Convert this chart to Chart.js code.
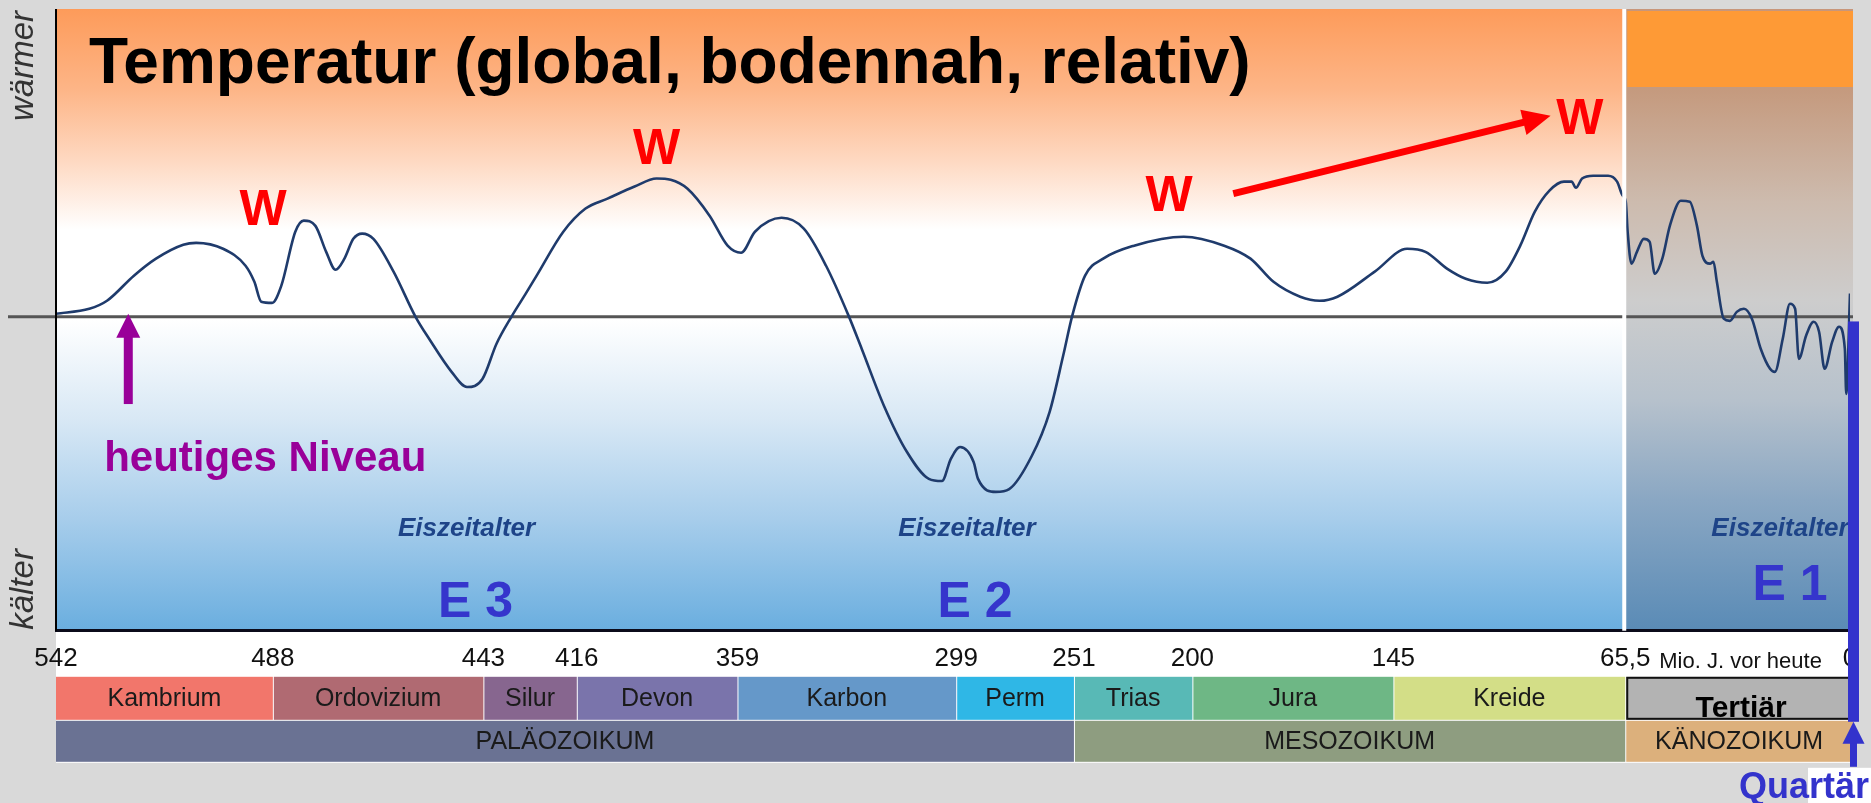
<!DOCTYPE html>
<html>
<head>
<meta charset="utf-8">
<script src="https://cdn.jsdelivr.net/npm/chart.js@4.4.1/dist/chart.umd.min.js"></script>
<style>
  html, body { margin: 0; padding: 0; background: #d9d9d9; }
  #wrap { width: 1871px; height: 803px; position: relative; }
</style>
</head>
<body>
<div id="wrap"><canvas id="chart"></canvas></div>
<script>
// Temperaturkurve: Alter in Mio. Jahren, relative Temperatur (0 = heutiges Niveau)
var ageMa = [542.0, 533.7, 529.3, 522.6, 517.1, 510.3, 507.1, 500.4, 494.8, 492.6,
  490.9, 488.2, 486.2, 483.2, 481.4, 478.9, 476.6, 474.6, 472.7, 470.8,
  468.9, 466.5, 462.2, 457.5, 454.6, 449.8, 446.5, 443.2, 439.2, 434.9,
  430.8, 427.6, 419.9, 412.9, 405.1, 395.5, 387.7, 382.7, 376.7, 368.9,
  362.5, 358.0, 354.2, 346.9, 340.8, 334.7, 328.5, 324.9, 318.8, 312.5,
  306.5, 302.9, 300.5, 297.4, 291.9, 290.1, 282.8, 277.4, 268.2, 260.9,
  255.4, 251.7, 246.2, 238.4, 225.1, 203.7, 191.3, 184.1, 177.8, 170.5,
  165.2, 160.3, 150.1, 140.3, 134.0, 126.5, 120.2, 112.8, 106.5, 101.5,
  96.5, 91.5, 86.5, 83.9, 82.4, 80.3, 76.5, 71.4, 68.3, 66.4,
  65.35, 64.8, 63.7, 62.1, 60.1, 58.4, 56.9, 54.7, 52.5, 49.3,
  46.7, 44.6, 43.0, 40.8, 39.8, 38.8, 36.8, 35.0, 33.0, 30.9,
  28.6, 26.0, 23.3, 21.9, 19.6, 17.5, 16.0, 14.9, 12.8, 10.6,
  9.0, 7.4, 5.2, 3.2, 1.5, 1.1, 0];
var tempRel = [0.10, 0.26, 0.52, 1.33, 1.88, 2.33, 2.39, 2.20, 1.65, 1.13,
  0.49, 0.45, 1.00, 2.75, 3.11, 2.94, 2.10, 1.52, 1.88, 2.52,
  2.69, 2.52, 1.46, 0, -0.71, -1.78, -2.27, -2.01, -0.87, 0,
  0.74, 1.33, 2.75, 3.50, 3.82, 4.21, 4.47, 4.43, 4.14, 3.27,
  2.30, 2.07, 2.75, 3.20, 2.85, 1.65, 0.03, -1.04, -2.88, -4.37,
  -5.24, -5.31, -4.60, -4.21, -4.69, -5.24, -5.66, -5.57, -4.50, -3.07,
  -1.26, 0.03, 1.33, 1.88, 2.30, 2.59, 2.30, 1.88, 1.13, 0.65,
  0.52, 0.65, 1.46, 2.20, 2.10, 1.55, 1.23, 1.10, 1.46, 2.30,
  3.40, 4.08, 4.37, 4.37, 4.17, 4.47, 4.56, 4.56, 4.37, 3.92,
  3.72, 2.75, 1.72, 2.10, 2.52, 2.43, 1.39, 1.88, 2.94, 3.75,
  3.72, 2.94, 1.97, 1.72, 1.78, 1.13, -0.06, -0.13, 0.16, 0.26,
  -0.06, -1.04, -1.68, -1.78, -0.71, 0.42, 0.26, -1.36, -0.61, -0.16,
  -0.49, -1.68, -0.81, -0.32, -1.04, -2.49, 0.75];

var boundaryAges = [542, 488, 443, 416, 359, 299, 251, 200, 145, 65.5, 0];
var tickAges = [542, 488, 443, 416, 359, 299, 251, 200, 145, 65.5, 0];
var periodNames = ['Kambrium', 'Ordovizium', 'Silur', 'Devon', 'Karbon', 'Perm', 'Trias', 'Jura', 'Kreide', 'Tertiär'];
var eraNames = ['PALÄOZOIKUM', 'MESOZOIKUM', 'KÄNOZOIKUM'];
var eraBounds = [542, 251, 65.5, 0];

// relative Breite jedes Zeitabschnitts auf der (nicht linearen) Zeitachse
var axisWeights = [216.6, 210.3, 93.3, 160.5, 218.5, 117.6, 118.3, 200.8, 231.6, 224.5];
var periodColors = ['#f2766b', '#b06a72', '#87668f', '#7a74ab', '#6598c9', '#2fb7e6', '#58b9b6', '#6eb785', '#d3de87', '#b3b3b3'];
var eraColors = ['#6a7293', '#8e9d80', '#dcb07c'];
var SANS = "'Liberation Sans', Arial, sans-serif";

function axisTotal() {
  var t = 0;
  for (var i = 0; i < axisWeights.length; i++) t += axisWeights[i];
  return t;
}

function ageToFraction(age) {
  var acc = 0, n = axisWeights.length;
  for (var i = 0; i < n; i++) {
    var a0 = boundaryAges[i], a1 = boundaryAges[i + 1];
    if (age >= a1 || i === n - 1) {
      return (acc + (a0 - age) / (a0 - a1) * axisWeights[i]) / axisTotal();
    }
    acc += axisWeights[i];
  }
}

function fractionToAge(f) {
  var units = f * axisTotal(), acc = 0, n = axisWeights.length;
  for (var i = 0; i < n; i++) {
    if (units <= acc + axisWeights[i] || i === n - 1) {
      var a0 = boundaryAges[i], a1 = boundaryAges[i + 1];
      return a0 - (units - acc) / axisWeights[i] * (a0 - a1);
    }
    acc += axisWeights[i];
  }
}

class GeoTimeScale extends Chart.LinearScale {
  getPixelForValue(value) {
    return this.left + ageToFraction(value) * this.width;
  }
  getValueForPixel(pixel) {
    return fractionToAge((pixel - this.left) / this.width);
  }
}
GeoTimeScale.id = 'geotime';
GeoTimeScale.defaults = Chart.LinearScale.defaults;
Chart.register(GeoTimeScale);

function arrow(ctx, x0, y0, x1, y1, width, headLen, headHalf, color) {
  var ang = Math.atan2(y1 - y0, x1 - x0);
  var bx = x1 - Math.cos(ang) * headLen, by = y1 - Math.sin(ang) * headLen;
  ctx.save();
  ctx.strokeStyle = color;
  ctx.fillStyle = color;
  ctx.lineWidth = width;
  ctx.beginPath();
  ctx.moveTo(x0, y0);
  ctx.lineTo(bx + Math.cos(ang) * 2, by + Math.sin(ang) * 2);
  ctx.stroke();
  ctx.beginPath();
  ctx.moveTo(x1, y1);
  ctx.lineTo(bx - Math.sin(ang) * headHalf, by + Math.cos(ang) * headHalf);
  ctx.lineTo(bx + Math.sin(ang) * headHalf, by - Math.cos(ang) * headHalf);
  ctx.closePath();
  ctx.fill();
  ctx.restore();
}

function text(ctx, str, x, y, font, color, align, baseline) {
  ctx.font = font;
  ctx.fillStyle = color;
  ctx.textAlign = align || 'left';
  ctx.textBaseline = baseline || 'alphabetic';
  ctx.fillText(str, x, y);
}

var backdrop = {
  id: 'backdrop',
  beforeDraw: function (chart) {
    var ctx = chart.ctx, a = chart.chartArea, xs = chart.scales.x;
    var right = a.right + 3;
    var tx = xs.getPixelForValue(65.5);
    ctx.save();
    ctx.fillStyle = '#d9d9d9';
    ctx.fillRect(0, 0, chart.width, chart.height);

    // warm/kalt Hintergrund
    var g = ctx.createLinearGradient(0, a.top, 0, a.bottom);
    g.addColorStop(0, '#fd9b5a');
    g.addColorStop(0.13, '#fdb587');
    g.addColorStop(0.245, '#fed9c2');
    g.addColorStop(0.355, '#ffffff');
    g.addColorStop(0.5, '#ffffff');
    g.addColorStop(0.66, '#d8e8f5');
    g.addColorStop(0.82, '#a7cdeb');
    g.addColorStop(1, '#6aaedf');
    ctx.fillStyle = g;
    ctx.fillRect(a.left, a.top, tx - a.left, a.bottom - a.top);

    // Tertiär-Feld
    var g2 = ctx.createLinearGradient(0, a.top, 0, a.bottom);
    g2.addColorStop(0, '#c8967a');
    g2.addColorStop(0.13, '#c59a7e');
    g2.addColorStop(0.31, '#cdbbae');
    g2.addColorStop(0.47, '#cdcdcd');
    g2.addColorStop(0.63, '#b6c1cc');
    g2.addColorStop(0.79, '#8aa7c3');
    g2.addColorStop(1, '#5a8bb6');
    ctx.fillStyle = g2;
    ctx.fillRect(tx, a.top, right - tx, a.bottom - a.top);
    ctx.fillStyle = '#fe9a36';
    ctx.fillRect(tx + 2, a.top + 2, right - tx - 2, 76);

    // weisser Streifen unter der Achse
    ctx.fillStyle = '#ffffff';
    ctx.fillRect(a.left, a.bottom, right - a.left, 132);

    // Perioden
    var rowTop = a.bottom + 46, rowH = 43;
    for (var i = 0; i < periodNames.length; i++) {
      var x0 = xs.getPixelForValue(boundaryAges[i]), x1 = xs.getPixelForValue(boundaryAges[i + 1]);
      if (i === periodNames.length - 1) x1 = right;
      ctx.fillStyle = periodColors[i];
      if (periodNames[i] === 'Tertiär') {
        ctx.fillRect(x0 + 1, rowTop, x1 - x0 - 1, rowH);
        ctx.strokeStyle = '#111';
        ctx.lineWidth = 2;
        ctx.strokeRect(x0 + 2, rowTop + 1, x1 - x0 - 4, rowH - 2);
        text(ctx, periodNames[i], (x0 + x1) / 2 + 2, rowTop + 40, 'bold 30px ' + SANS, '#000', 'center');
      } else {
        ctx.fillRect(x0 + (i ? 1 : 0), rowTop, x1 - x0 - (i ? 1 : 0), rowH);
        text(ctx, periodNames[i], (x0 + x1) / 2, rowTop + rowH / 2 + 1, '25px ' + SANS, '#1a1a1a', 'center', 'middle');
      }
    }
    var eraTop = rowTop + rowH + 1, eraH = 41;
    for (var j = 0; j < eraNames.length; j++) {
      var e0 = xs.getPixelForValue(eraBounds[j]), e1 = xs.getPixelForValue(eraBounds[j + 1]);
      if (j === eraNames.length - 1) e1 = right;
      ctx.fillStyle = eraColors[j];
      ctx.fillRect(e0 + (j ? 1 : 0), eraTop, e1 - e0 - (j ? 1 : 0), eraH);
      text(ctx, eraNames[j], (e0 + e1) / 2, eraTop + eraH / 2 + 1, '25px ' + SANS, '#1a1a1a', 'center', 'middle');
    }
    ctx.restore();
  },
  beforeDatasetsDraw: function (chart) {
    var ctx = chart.ctx, a = chart.chartArea, ys = chart.scales.y;
    var y0 = ys.getPixelForValue(0);
    ctx.save();
    ctx.strokeStyle = '#555555';
    ctx.lineWidth = 3;
    ctx.beginPath();
    ctx.moveTo(8, y0);
    ctx.lineTo(a.right + 3, y0);
    ctx.stroke();
    ctx.restore();
  }
};

var overlay = {
  id: 'overlay',
  afterDatasetsDraw: function (chart) {
    var ctx = chart.ctx, a = chart.chartArea, xs = chart.scales.x, ys = chart.scales.y;
    var px = function (v) { return xs.getPixelForValue(v); };
    var py = function (v) { return ys.getPixelForValue(v); };
    ctx.save();

    // Trennlinie Kreide / Tertiär
    ctx.strokeStyle = '#ffffff';
    ctx.lineWidth = 4;
    ctx.beginPath();
    ctx.moveTo(px(65.5) - 1, a.top);
    ctx.lineTo(px(65.5) - 1, a.bottom);
    ctx.stroke();

    // linke Achse
    ctx.strokeStyle = '#000';
    ctx.lineWidth = 2;
    ctx.beginPath();
    ctx.moveTo(a.left, a.top);
    ctx.lineTo(a.left, a.bottom);
    ctx.stroke();

    text(ctx, 'Temperatur (global, bodennah, relativ)', a.left + 33, a.top + 74, 'bold 64px ' + SANS, '#000');

    ctx.save();
    ctx.translate(a.left - 23, a.top + 112);
    ctx.rotate(-Math.PI / 2);
    text(ctx, 'wärmer', 0, 0, 'italic 33px ' + SANS, '#333');
    ctx.restore();
    ctx.save();
    ctx.translate(a.left - 23, a.bottom - 1);
    ctx.rotate(-Math.PI / 2);
    text(ctx, 'kälter', 0, 0, 'italic 33px ' + SANS, '#333');
    ctx.restore();

    // Warmzeiten
    var warm = [[490.4, 2.98], [387.7, 4.95], [210, 3.43], [81.1, 5.92]];
    warm.forEach(function (w) {
      text(ctx, 'W', px(w[0]), py(w[1]), 'bold 50px ' + SANS, '#ff0000', 'center');
    });
    arrow(ctx, px(188.8), py(3.98), px(91.1), py(6.5), 7, 28, 13, '#ff0000');

    // heutiges Niveau
    arrow(ctx, px(524), py(-2.82), px(524), py(0.1), 9, 24, 12, '#990099');
    text(ctx, 'heutiges Niveau', px(530), py(-4.98), 'bold 42px ' + SANS, '#990099');

    // Eiszeitalter
    [446.6, 294.6, 20.4].forEach(function (ag) {
      text(ctx, 'Eiszeitalter', px(ag), py(-7.09), 'italic bold 26px ' + SANS, '#1e4488', 'center');
    });
    text(ctx, 'E 3', px(444.7), py(-9.71), 'bold 50px ' + SANS, '#3535cc', 'center');
    text(ctx, 'E 2', px(291.3), py(-9.71), 'bold 50px ' + SANS, '#3535cc', 'center');
    text(ctx, 'E 1', px(17.5), py(-9.16), 'bold 50px ' + SANS, '#3535cc', 'center');
    ctx.restore();
  },
  afterDraw: function (chart) {
    var ctx = chart.ctx, a = chart.chartArea, xs = chart.scales.x, ys = chart.scales.y;
    var x0 = xs.getPixelForValue(0);
    ctx.save();
    text(ctx, 'Mio. J. vor heute', xs.getPixelForValue(65.5) + 34, a.bottom + 37, '22px ' + SANS, '#111');

    // Quartär-Markierung
    ctx.fillStyle = '#3333cc';
    ctx.fillRect(x0 - 2, ys.getPixelForValue(-0.15), 11, a.bottom + 91 - ys.getPixelForValue(-0.15));
    arrow(ctx, x0 + 3.5, a.bottom + 136, x0 + 3.5, a.bottom + 91, 7, 22, 11, '#3333cc');
    ctx.fillStyle = '#ffffff';
    ctx.fillRect(x0 - 42, a.bottom + 137, chart.width - x0 + 42, 40);
    text(ctx, 'Quartär', x0 - 111, chart.height - 5, 'bold 36px ' + SANS, '#3333cc');
    ctx.restore();
  }
};

new Chart(document.getElementById('chart'), {
  type: 'line',
  data: {
    datasets: [{
      data: ageMa.map(function (a, i) { return {x: a, y: tempRel[i]}; }),
      borderColor: '#1f3b6c',
      borderWidth: 2.6,
      pointRadius: 0,
      cubicInterpolationMode: 'monotone',
      fill: false
    }]
  },
  options: {
    responsive: true,
    maintainAspectRatio: false,
    animation: false,
    devicePixelRatio: 1,
    layout: {padding: {left: 56, right: 21, top: 9, bottom: 117}},
    plugins: {legend: {display: false}, tooltip: {enabled: false}},
    scales: {
      x: {
        type: 'geotime',
        min: 0,
        max: 542,
        grid: {display: false, drawTicks: false},
        border: {display: true, color: '#0b0b1a', width: 3},
        afterBuildTicks: function (axis) {
          axis.ticks = tickAges.map(function (v) { return {value: v}; });
        },
        ticks: {
          autoSkip: false,
          maxRotation: 0,
          padding: 12,
          color: '#111',
          font: {family: SANS, size: 26},
          callback: function (v) { return String(v).replace('.', ','); }
        }
      },
      y: {display: false, min: -10.15, max: 9.95}
    }
  },
  plugins: [backdrop, overlay]
});
</script>
</body>
</html>
